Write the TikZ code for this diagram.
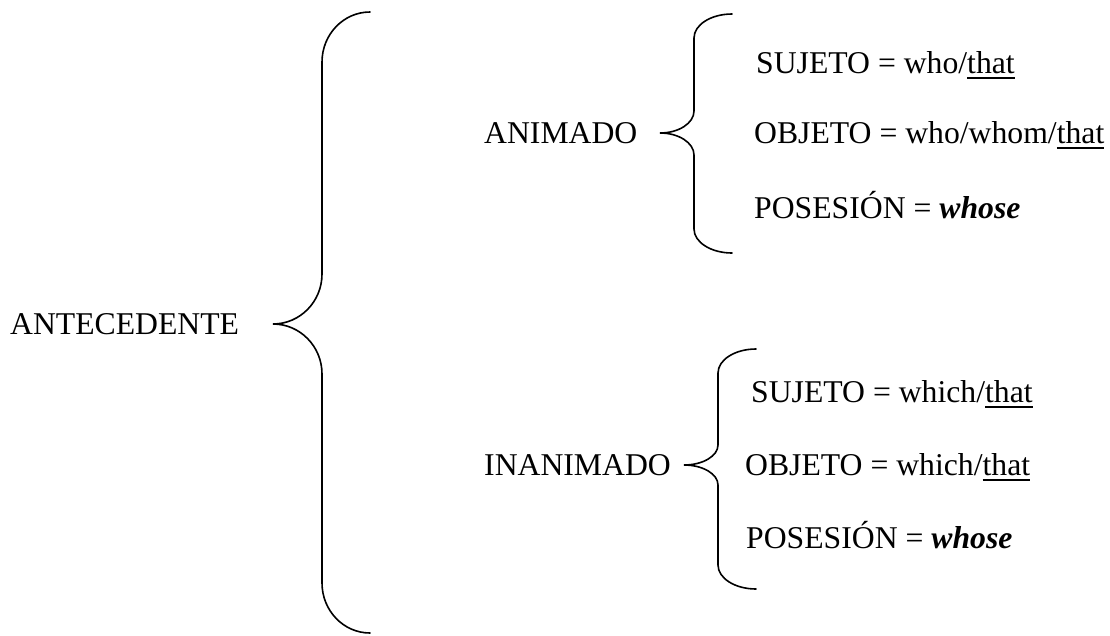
\documentclass[tikz,border=0pt]{standalone}
\usepackage{fontspec}
\setmainfont{Liberation Serif}
\newcommand{\ulWord}[1]{\leavevmode\vtop{\hbox{#1}\kern3pt\hrule height1.8pt}}
\begin{document}
\begin{tikzpicture}[x=1pt,y=-1pt]
  \tikzset{
    item/.style={anchor=base west, inner sep=0pt, font=\fontsize{31.7}{38}\selectfont},
    brace line/.style={line width=1.6pt, line cap=round}
  }
  \newcommand{\schemaBrace}[8]{
    % draws a curly brace opening to the right, built from quarter ellipses
    % args:
    %     x of the tip, x of the spine, x of the two ends
    %     y of the top end, y of the tip, y of the bottom end
    %     height of the corner curves, height of the middle curves
    \draw[brace line] (#3,#4)
      .. controls ({#3-0.552*(#3-#2)},#4) and (#2,{#4+0.448*#7}) .. (#2,{#4+#7})
      -- (#2,{#5-#8})
      .. controls (#2,{#5-0.448*#8}) and ({#1+0.552*(#2-#1)},#5) .. (#1,#5)
      .. controls ({#1+0.552*(#2-#1)},#5) and (#2,{#5+0.448*#8}) .. (#2,{#5+#8})
      -- (#2,{#6-#7})
      .. controls (#2,{#6-0.448*#7}) and ({#3-0.552*(#3-#2)},#6) .. (#3,#6);
  }
  \useasboundingbox (0,0) rectangle (1110,635);
  %
  % root
  \node[item] (antecedente) at (10,334.5) {ANTECEDENTE};
  \schemaBrace{273}{322}{370}{12}{324}{633}{50}{50}
  %
  % animate antecedent
  \node[item] (animado) at (484,143.5) {ANIMADO};
  \schemaBrace{660}{694}{732}{14}{133}{253}{24}{22}
  \node[item] (anSujeto) at (756,73.5) {SUJETO = who/\ulWord{that}};
  \node[item] (anObjeto) at (754,143.5) {OBJETO = who/whom/\ulWord{that}};
  \node[item] (anPosesion) at (754,218.5) {POSESIÓN = \textbf{\textit{whose}}};
  %
  % inanimate antecedent
  \node[item] (inanimado) at (484,475.5) {INANIMADO};
  \schemaBrace{684}{718}{756}{349}{465}{589}{24}{20}
  \node[item] (inSujeto) at (751,402.5) {SUJETO = which/\ulWord{that}};
  \node[item] (inObjeto) at (745,475.5) {OBJETO = which/\ulWord{that}};
  \node[item] (inPosesion) at (746,548.5) {POSESIÓN = \textbf{\textit{whose}}};
\end{tikzpicture}
\end{document}
